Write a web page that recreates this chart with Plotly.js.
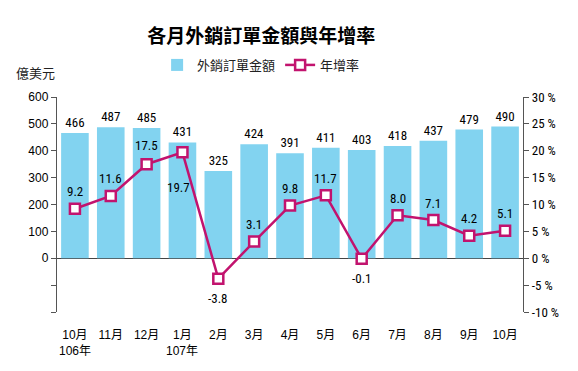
<!DOCTYPE html>
<html><head><meta charset="utf-8">
<script src="https://cdn.plot.ly/plotly-3.0.1.min.js"></script>
<style>html,body{margin:0;padding:0;background:#fff}#c{width:578px;height:371px}</style>
</head><body><div id="c"></div>
<script>
const months = ["10月","11月","12月","1月","2月","3月","4月","5月","6月","7月","8月","9月","10月"];
const years = ["106年","","","107年","","","","","","","","",""];
const orders = [466,487,485,431,325,424,391,411,403,418,437,479,490];
const growth = [9.2,11.6,17.5,19.7,-3.8,3.1,9.8,11.7,-0.1,8.0,7.1,4.2,5.1];
const growthLabels = ["9.2","11.6","17.5","19.7","-3.8","3.1","9.8","11.7","-0.1","8.0","7.1","4.2","5.1"];
const leftTicks = [-200,-100,0,100,200,300,400,500,600];
const leftTickText = ["","","0","100","200","300","400","500","600"];
const rightTicks = [-10,-5,0,5,10,15,20,25,30];
const rightTickText = ["-10 %","-5 %","0 %","5 %","10 %","15 %","20 %","25 %","30 %"];
const labelShift = [17,17,19,-35,-20,17,17,17,-20,17,17,17,17];

const NARROW = "'Liberation Sans Narrow','Roboto Condensed','Noto Sans CJK TC',sans-serif";
const SANS = "'Liberation Sans','Noto Sans CJK TC',sans-serif";
const CJK = "'Noto Sans CJK TC',sans-serif";
const idx = months.map((m,i)=>i);

const bars = {
  type:'bar', name:'外銷訂單金額', x:idx, y:orders,
  marker:{color:'#82D3F0'}, text:orders.map(String), textposition:'outside',
  textfont:{size:13,color:'#000',family:NARROW}, cliponaxis:false, yaxis:'y'
};
const line = {
  type:'scatter', mode:'lines+markers', name:'年增率', x:idx, y:growth, yaxis:'y2',
  line:{color:'#C2136E',width:2.5},
  marker:{symbol:'square',size:10,color:'#fff',line:{color:'#C2136E',width:2.5}}
};
const anns = growth.map((g,i)=>({
  x:idx[i], y:g, xref:'x', yref:'y2', text:growthLabels[i], showarrow:false,
  yshift:labelShift[i], xshift:(i===3?-4:0), font:{size:13,color:'#000',family:NARROW}
}));
years.forEach((y,i)=>{ if(y) anns.push({x:idx[i],xref:'x',yref:'paper',y:-0.181,yanchor:'middle',
  text:y,showarrow:false,font:{size:12,color:'#000',family:SANS}}); });
anns.push({xref:'paper',yref:'paper',x:-0.047,y:1.116,xanchor:'center',yanchor:'middle',text:'億美元',showarrow:false,
  font:{size:13,color:'#222',family:CJK}});

const layout = {
  width:578,height:371,margin:{l:57,r:55,t:97,b:59},
  paper_bgcolor:'#fff',plot_bgcolor:'#fff',
  title:{text:'<b>各月外銷訂單金額與年增率</b>',x:0.452,xref:'container',xanchor:'center',
    y:0.903,yref:'container',yanchor:'middle',
    font:{size:19,color:'#000',family:CJK}},
  showlegend:true,
  legend:{orientation:'h',x:0.438,xanchor:'center',y:1.149,yanchor:'middle',
    font:{size:13,color:'#222',family:CJK},tracegroupgap:0},
  bargap:0.23,
  xaxis:{tickmode:'array',tickvals:idx,ticktext:months,range:[-0.5,12.5],showline:false,ticks:'',
    ticklabelstandoff:14,
    tickfont:{size:12,color:'#000',family:SANS},zeroline:false,showgrid:false},
  yaxis:{range:[-200,600],tickmode:'array',tickvals:leftTicks,ticktext:leftTickText,
    showline:true,linecolor:'#555',linewidth:1.2,ticks:'outside',ticklen:5,tickcolor:'#555',
    showgrid:false,zeroline:true,zerolinecolor:'#444',zerolinewidth:1.2,
    tickfont:{size:12,color:'#000',family:SANS}},
  yaxis2:{range:[-10,30],overlaying:'y',side:'right',tickmode:'array',tickvals:rightTicks,ticktext:rightTickText,
    showline:true,linecolor:'#555',linewidth:1.2,ticks:'outside',ticklen:5,tickcolor:'#555',
    showgrid:false,zeroline:false,tickfont:{size:13,color:'#000',family:NARROW}},
  annotations:anns
};
Plotly.newPlot('c',[bars,line],layout,{displayModeBar:false,staticPlot:true});
</script></body></html>
